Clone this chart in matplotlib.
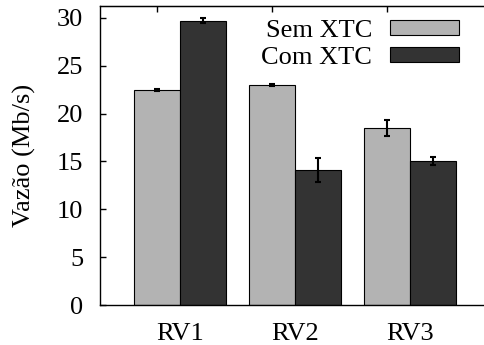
import matplotlib

matplotlib.use("Agg")
import matplotlib.pyplot as plt
import numpy as np
from matplotlib.patches import Patch

plt.rcParams["font.family"] = ["Liberation Serif", "DejaVu Serif"]
plt.rcParams["font.size"] = 19

# data
groups = ["RV1", "RV2", "RV3"]
sem_xtc = [22.5, 22.95, 18.5]
sem_err = [0.1, 0.1, 0.82]
com_xtc = [29.72, 14.1, 15.05]
com_err = [0.25, 1.25, 0.38]
series_names = ["Sem XTC", "Com XTC"]
yticks = [0, 5, 10, 15, 20, 25, 30]

W, H = 484, 345
fig = plt.figure(figsize=(W / 100, H / 100), dpi=100)
ax = fig.add_axes([100 / W, (H - 305) / H, 384 / W + 0.01, 299 / H])

x = np.arange(len(groups))
bw = 0.4
gray, dark = "#b3b3b3", "#333333"
err_kw = dict(ecolor="black", elinewidth=1.5, capsize=2.5, capthick=1.5)

ax.bar(x - bw / 2, sem_xtc, bw, yerr=sem_err, color=gray, edgecolor="black",
       linewidth=0.8, error_kw=err_kw, zorder=2)
ax.bar(x + bw / 2, com_xtc, bw, yerr=com_err, color=dark, edgecolor="black",
       linewidth=0.8, error_kw=err_kw, zorder=2)

ax.set_xlim(-0.696, 2.643 + 0.01 * W / 115)
ax.set_ylim(0, 31.25)
ax.set_yticks(yticks)
ax.set_xticks(x)
ax.set_xticklabels(groups)
ax.tick_params(axis="x", length=0, pad=13)
ax.tick_params(axis="y", direction="in", length=4, width=1, pad=12)
ax.spines["right"].set_visible(False)
for s in ["left", "bottom", "top"]:
    ax.spines[s].set_linewidth(1.0)

# small mirrored ticks on top
top = ax.secondary_xaxis("top")
top.set_xticks(x - bw / 2)
top.set_xticklabels([])
top.tick_params(direction="in", length=4, width=1)

ax.set_ylabel("Vazão (Mb/s)")
ax.yaxis.set_label_coords((37 - 100) / 384, 0.5)

handles = [Patch(facecolor=gray, edgecolor="black", linewidth=0.8),
           Patch(facecolor=dark, edgecolor="black", linewidth=0.8)]
fig.legend(handles, series_names, loc="upper right",
           bbox_to_anchor=(459 / W, 1 - 20 / H), frameon=False,
           markerfirst=False, handlelength=2.6, handleheight=0.5,
           handletextpad=0.7, labelspacing=0.2, borderpad=0,
           borderaxespad=0)

fig.savefig("out.png", dpi=100)
